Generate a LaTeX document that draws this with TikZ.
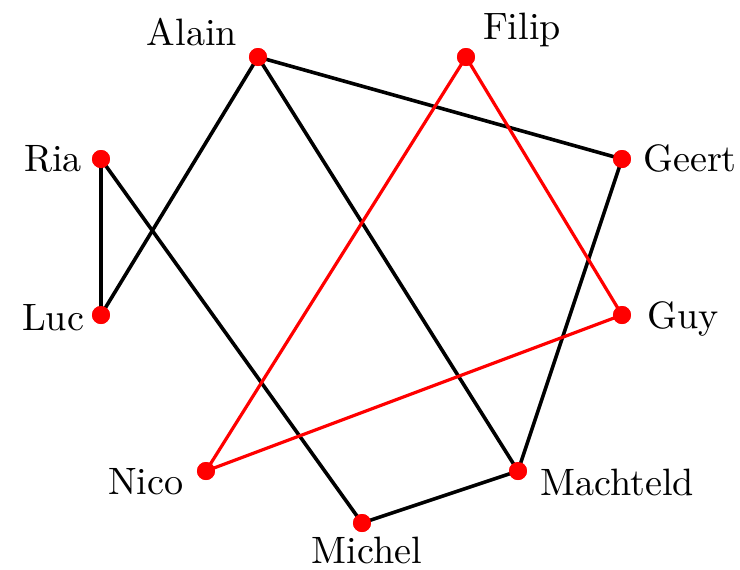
\documentclass[tikz,border=0pt]{standalone}
\begin{document}
\begin{tikzpicture}[x=0.27pt,y=-0.27pt,
  dot/.style={circle,fill=red,inner sep=0pt,minimum size=18*0.27pt},
  lbl/.style={anchor=base,inner sep=0pt,font=\fontsize{10.3}{12}\selectfont},
  edge/.style={line width=3.6*0.27pt,black},
  redge/.style={line width=3.2*0.27pt,red}]
\useasboundingbox (0,0) rectangle (740,570);
\node[dot] (Alain) at (258,57) {};
\node[dot] (Filip) at (466,57) {};
\node[dot] (Ria) at (101,159) {};
\node[dot] (Geert) at (622,159) {};
\node[dot] (Luc) at (101,315) {};
\node[dot] (Guy) at (622,315) {};
\node[dot] (Nico) at (206,471) {};
\node[dot] (Machteld) at (518,471) {};
\node[dot] (Michel) at (362,523) {};
\draw[edge] (Alain.center) -- (Geert.center);
\draw[edge] (Alain.center) -- (Luc.center);
\draw[edge] (Alain.center) -- (Machteld.center);
\draw[edge] (Ria.center) -- (Luc.center);
\draw[edge] (Ria.center) -- (Michel.center);
\draw[edge] (Geert.center) -- (Machteld.center);
\draw[edge] (Michel.center) -- (Machteld.center);
\draw[redge] (Filip.center) -- (Guy.center);
\draw[redge] (Filip.center) -- (Nico.center);
\draw[redge] (Nico.center) -- (Guy.center);
\foreach \n in {Alain,Filip,Ria,Geert,Luc,Guy,Nico,Machteld,Michel}
  \fill[red] (\n.center) circle[radius=9*0.27pt];
\node[lbl] (tAlain) at (192,45) {Alain};
\node[lbl] (tFilip) at (522,39) {Filip};
\node[lbl] (tRia) at (53,171) {Ria};
\node[lbl] (tGeert) at (690,171) {Geert};
\node[lbl] (tLuc) at (53,330) {Luc};
\node[lbl] (tGuy) at (683,328) {Guy};
\node[lbl] (tNico) at (146,494) {Nico};
\node[lbl] (tMachteld) at (617,495) {Machteld};
\node[lbl] (tMichel) at (367,563) {Michel};
\end{tikzpicture}
\end{document}
